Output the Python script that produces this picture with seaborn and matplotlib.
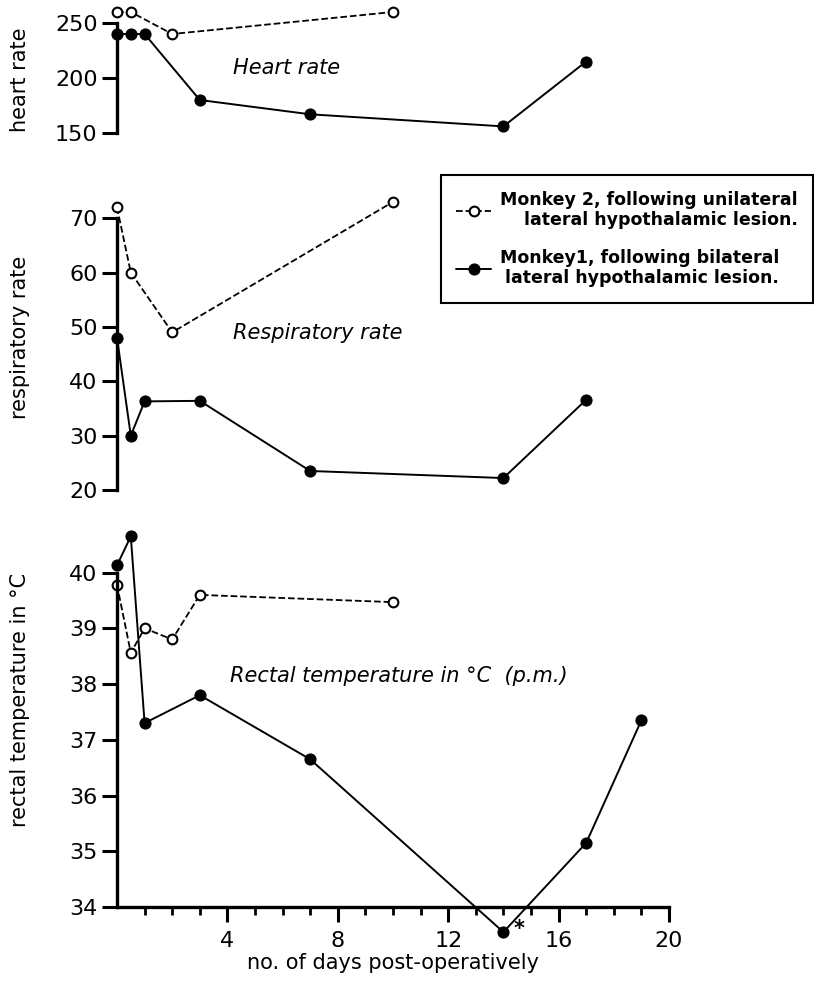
import matplotlib
matplotlib.use("Agg")
import matplotlib.pyplot as plt
import seaborn as sns

# days post-operatively and readings, Monkey 1 (bilateral) / Monkey 2 (unilateral)
hr_days_m1 = [0, 0.5, 1, 3, 7, 14, 17]
hr_m1 = [240, 240, 240, 180, 167, 156, 215]
hr_days_m2 = [0, 0.5, 2, 10]
hr_m2 = [260, 260, 240, 260]

resp_days_m1 = [0, 0.5, 1, 3, 7, 14, 17]
resp_m1 = [48, 30, 36.3, 36.4, 23.5, 22.2, 36.6]
resp_days_m2 = [0, 0.5, 2, 10]
resp_m2 = [72, 60, 49, 73]

temp_days_m1 = [0, 0.5, 1, 3, 7, 14, 17, 19]
temp_m1 = [40.13, 40.65, 37.3, 37.8, 36.65, 33.55, 35.15, 37.35]
temp_days_m2 = [0, 0.5, 1, 2, 3, 10]
temp_m2 = [39.78, 38.56, 39.0, 38.8, 39.6, 39.47]

hr_ticks = [150, 200, 250]
resp_ticks = [20, 30, 40, 50, 60, 70]
temp_ticks = [34, 35, 36, 37, 38, 39, 40]
day_ticks = [4, 8, 12, 16, 20]

label_m2 = "Monkey 2, following unilateral\nlateral hypothalamic lesion."
label_m1 = "Monkey1, following bilateral\nlateral hypothalamic lesion."

sns.set_style("ticks")
plt.rcParams["font.family"] = ["DejaVu Sans"]
for key in ["text.color", "axes.labelcolor", "axes.edgecolor", "xtick.color", "ytick.color"]:
    plt.rcParams[key] = "black"

W, H = 814, 985
fig = plt.figure(figsize=(W / 100, H / 100), dpi=100)


def px_axes(left, top, right, bottom):
    return fig.add_axes([left / W, 1 - bottom / H, (right - left) / W, (bottom - top) / H])


ax_hr = px_axes(117, 1, 669, 133)
ax_resp = px_axes(117, 191, 669, 490)
ax_temp = px_axes(117, 528, 669, 907)


def draw(ax, d1, v1, d2, v2):
    sns.lineplot(x=d2, y=v2, ax=ax, color="black", linestyle="--", lw=1.3,
                 marker="o", markersize=7, markerfacecolor="white",
                 markeredgecolor="black", markeredgewidth=1.5,
                 clip_on=False, legend=False, label=label_m2)
    sns.lineplot(x=d1, y=v1, ax=ax, color="black", lw=1.4,
                 marker="o", markersize=8, markerfacecolor="black",
                 markeredgecolor="black", clip_on=False, legend=False,
                 label=label_m1)


draw(ax_hr, hr_days_m1, hr_m1, hr_days_m2, hr_m2)
draw(ax_resp, resp_days_m1, resp_m1, resp_days_m2, resp_m2)
draw(ax_temp, temp_days_m1, temp_m1, temp_days_m2, temp_m2)

ax_hr.set_ylim(150, 270)
ax_resp.set_ylim(20, 75)
ax_temp.set_ylim(34, 40.8)

for ax, ticks in [(ax_hr, hr_ticks), (ax_resp, resp_ticks), (ax_temp, temp_ticks)]:
    ax.set_xlim(0, 20)
    ax.set_yticks(ticks)
    ax.spines["left"].set_bounds(ticks[0], ticks[-1])
    ax.spines["left"].set_linewidth(2.4)
    for s in ["top", "right"]:
        ax.spines[s].set_visible(False)
    ax.tick_params(axis="y", length=11, width=2.2, pad=3, labelsize=16)
    ax.set_xlabel("")
    ax.patch.set_alpha(0)

for ax in [ax_hr, ax_resp]:
    ax.spines["bottom"].set_visible(False)
    ax.set_xticks([])

ax_temp.spines["bottom"].set_linewidth(2.4)
ax_temp.spines["bottom"].set_bounds(0, 20)
ax_temp.set_xticks(day_ticks)
ax_temp.set_xticks([d for d in range(1, 20) if d % 4], minor=True)
ax_temp.tick_params(axis="x", which="major", length=11, width=2.2, pad=6, labelsize=16)
ax_temp.tick_params(axis="x", which="minor", length=6, width=2.0)
ax_temp.set_xlabel("no. of days post-operatively", fontsize=15, labelpad=2)

ax_hr.set_ylabel("heart rate", fontsize=15)
ax_resp.set_ylabel("respiratory rate", fontsize=15)
ax_temp.set_ylabel("rectal temperature in °C", fontsize=15)
ax_hr.yaxis.set_label_coords(-0.158, 0.40)
ax_resp.yaxis.set_label_coords(-0.158, 0.51)
ax_temp.yaxis.set_label_coords(-0.158, 0.546)

ax_hr.text(4.2, 209, "Heart rate", fontsize=15, style="italic", va="center")
ax_resp.text(4.2, 48.9, "Respiratory rate", fontsize=15, style="italic", va="center")
ax_temp.text(4.1, 38.15, "Rectal temperature in °C  (p.m.)", fontsize=15,
             style="italic", va="center")
ax_temp.text(14.35, 33.6, "*", fontsize=15, fontweight="bold", va="center")

handles, labels = ax_temp.get_legend_handles_labels()
leg = fig.legend(handles, labels, loc="upper right",
                 bbox_to_anchor=(813 / W, 1 - 175 / H),
                 frameon=True, fancybox=False, edgecolor="black", framealpha=1,
                 prop={"size": 12.5, "weight": "bold"}, handlelength=2.0,
                 borderpad=0.9, labelspacing=1.1, handletextpad=0.5,
                 borderaxespad=0)
leg.get_frame().set_linewidth(1.5)
for t in leg.get_texts():
    t.set_multialignment("right")

fig.savefig("out.png", dpi=100)
